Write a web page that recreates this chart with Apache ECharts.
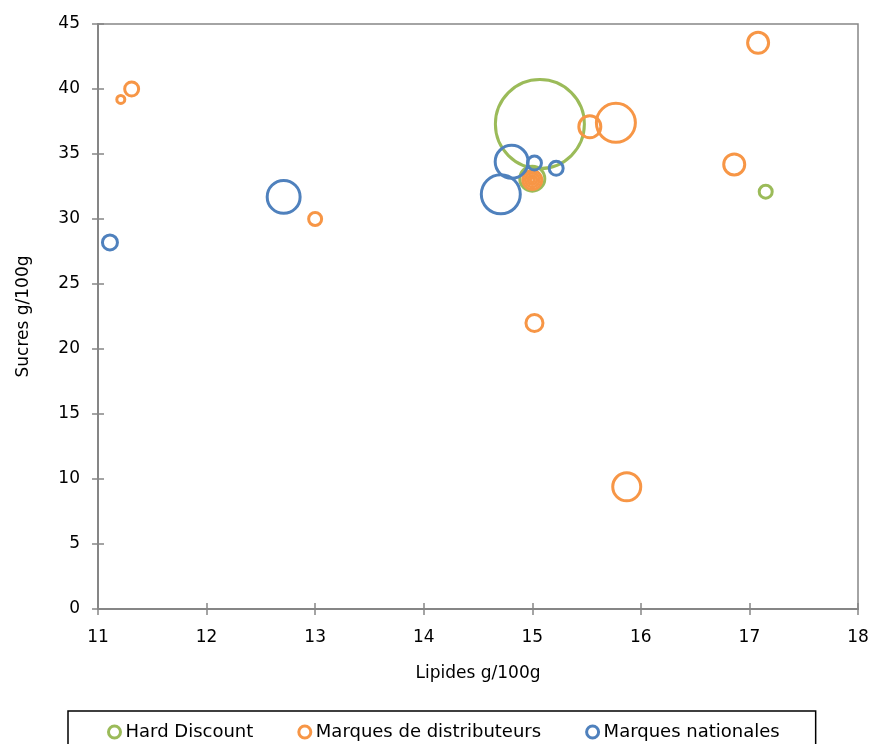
<!DOCTYPE html>
<html>
<head>
<meta charset="utf-8">
<script src="https://cdn.jsdelivr.net/npm/echarts@6/dist/echarts.min.js"></script>
<style>html,body{margin:0;padding:0;background:#fff}#c{width:874px;height:744px}</style>
</head>
<body>
<div id="c"></div>
<script>
// Hard Discount
var hdLipides = [15.07, 15.0, 17.15];
var hdSucres  = [37.3, 33.1, 32.1];
var hdSize    = [100, 7.9, 2.13];
// Marques de distributeurs
var mddLipides = [11.21, 11.31, 13.0, 15.02, 15.87, 15.53, 15.77, 17.08, 16.86, 15.0, 15.0, 15.0, 15.0];
var mddSucres  = [39.2, 40.0, 30.0, 22.0, 9.4, 37.1, 37.4, 43.55, 34.2, 33.0, 33.0, 33.0, 33.0];
var mddSize    = [0.81, 2.47, 2.13, 3.65, 9.9, 6.1, 19.2, 5.57, 5.57, 4.56, 2.47, 1.02, 0.2];
// Marques nationales
var mnLipides = [11.11, 12.71, 14.71, 14.81, 15.02, 15.22];
var mnSucres  = [28.2, 31.7, 31.9, 34.4, 34.3, 33.9];
var mnSize    = [2.84, 13.7, 19.2, 13.7, 2.47, 2.47];

var seriesNames = ['Hard Discount', 'Marques de distributeurs', 'Marques nationales'];
var colors = ['#9BBB59', '#F79646', '#4F81BD'];
var xTicks = [11, 12, 13, 14, 15, 16, 17, 18];
var yTicks = [0, 5, 10, 15, 20, 25, 30, 35, 40, 45];

function pts(xs, ys, ss) { return xs.map(function (x, i) { return [x, ys[i], ss[i]]; }); }
var FONT = "'DejaVu Sans', sans-serif";

function mk(i, data) {
  return {
    name: seriesNames[i], type: 'scatter', data: data,
    symbol: 'circle',
    symbolSize: function (v) { return 8.9 * Math.sqrt(v[2]); },
    itemStyle: { color: 'rgba(0,0,0,0)', borderColor: colors[i], borderWidth: 3, opacity: 1 },
    emphasis: { disabled: true }
  };
}

var tickStyle = { color: '#868686', width: 1.5 };
var chart = echarts.init(document.getElementById('c'), null, { renderer: 'canvas' });
chart.setOption({
  animation: false,
  grid: { left: 98, right: 16, top: 24, bottom: 135, show: true, borderColor: '#868686', borderWidth: 1.5 },
  xAxis: [{
    type: 'value', min: xTicks[0], max: xTicks[xTicks.length - 1], interval: 1,
    name: 'Lipides g/100g', nameLocation: 'middle', nameGap: 56,
    nameTextStyle: { fontFamily: FONT, fontSize: 17, color: '#000' },
    axisLine: { lineStyle: { color: '#868686', width: 2 } },
    axisTick: { show: true, length: 6, lineStyle: tickStyle },
    axisLabel: { fontFamily: FONT, fontSize: 17, color: '#000', margin: 20 },
    splitLine: { show: false }
  }, {
    type: 'value', min: xTicks[0], max: xTicks[xTicks.length - 1], interval: 1, position: 'bottom',
    axisLine: { show: false }, axisLabel: { show: false }, splitLine: { show: false },
    axisTick: { show: true, inside: true, length: 6, lineStyle: tickStyle }
  }],
  yAxis: [{
    type: 'value', min: yTicks[0], max: yTicks[yTicks.length - 1], interval: 5,
    name: 'Sucres g/100g', nameLocation: 'middle', nameGap: 66,
    nameTextStyle: { fontFamily: FONT, fontSize: 17, color: '#000' },
    axisLine: { show: true, lineStyle: { color: '#868686', width: 2 } },
    axisTick: { show: true, length: 6, lineStyle: tickStyle },
    axisLabel: { fontFamily: FONT, fontSize: 17, color: '#000', margin: 18 },
    splitLine: { show: false }
  }, {
    type: 'value', min: yTicks[0], max: yTicks[yTicks.length - 1], interval: 5, position: 'left',
    axisLine: { show: false }, axisLabel: { show: false }, splitLine: { show: false },
    axisTick: { show: true, inside: true, length: 6, lineStyle: tickStyle }
  }],
  legend: {
    data: seriesNames.map(function (n, i) {
      return { name: n, icon: 'circle', itemStyle: { color: '#fff', borderColor: colors[i], borderWidth: 3 } };
    }),
    left: 68, top: 711, itemWidth: 12, itemHeight: 12, itemGap: 44,
    padding: [12, 36, 14, 39],
    borderColor: '#000', borderWidth: 1.5,
    textStyle: { fontFamily: FONT, fontSize: 18, color: '#000' }
  },
  series: [
    mk(0, pts(hdLipides, hdSucres, hdSize)),
    mk(1, pts(mddLipides, mddSucres, mddSize)),
    mk(2, pts(mnLipides, mnSucres, mnSize))
  ]
});
</script>
</body>
</html>
